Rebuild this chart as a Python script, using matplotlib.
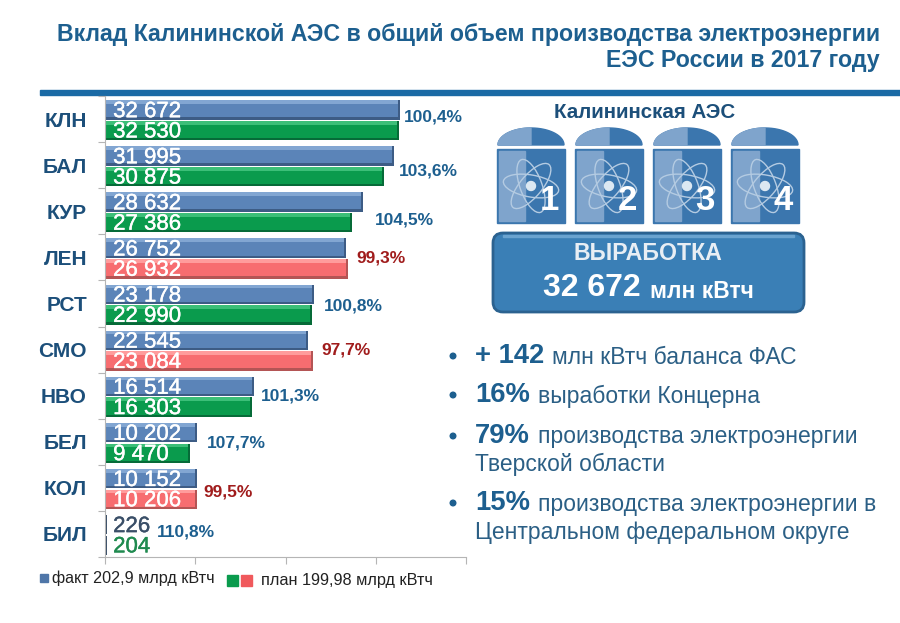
import numpy as np
from matplotlib import pyplot as plt
from matplotlib.patches import Rectangle, Ellipse, Circle, Polygon, FancyBboxPatch
import matplotlib.patheffects as pe

plt.rcParams['font.family'] = ['Liberation Sans', 'DejaVu Sans']

# chart data
stations = ["КЛН", "БАЛ", "КУР", "ЛЕН", "РСТ", "СМО", "НВО", "БЕЛ", "КОЛ", "БИЛ"]
fact = [32672, 31995, 28632, 26752, 23178, 22545, 16514, 10202, 10152, 226]
plan = [32530, 30875, 27386, 26932, 22990, 23084, 16303, 9470, 10206, 204]
percents = ["100,4%", "103,6%", "104,5%", "99,3%", "100,8%", "97,7%", "101,3%", "107,7%", "99,5%", "110,8%"]

# where the percent labels sit, in pixels
pct_x = [404, 399, 375, 356, 324, 321, 261, 207, 203, 157]
pct_y = [117, 171, 220, 258, 306, 350, 396, 443, 492, 532]

DARK = "#1c4f7a"
BLUE = "#1d5f8f"
TEXT = "#2b5f85"

fig = plt.figure(figsize=(9, 6.23), dpi=100)

# full figure axes in pixels for everything around the bars
bg = fig.add_axes([0, 0, 1, 1])
bg.set_xlim(0, 900)
bg.set_ylim(623, 0)
bg.axis("off")

ax = fig.add_axes([105 / 900, 66 / 623, 361 / 900, 461 / 623])
ax.patch.set_alpha(0)
y = np.arange(len(stations))


def bevel_bar(ypos, val, h, col, light, dark):
    '''bar with a light top edge, dark lower edge and dark right end'''
    ax.barh(ypos, val, height=h, color=col)
    ax.barh(ypos - h / 2 + 0.04, val, height=0.08, color=light)
    ax.barh(ypos + h / 2 - 0.025, val, height=0.05, color=dark)
    ax.barh(ypos, min(val, 220), height=h, left=val - min(val, 220), color=dark)


for i in y:
    if fact[i] < 1000:
        # too short for a bevel, plain dark marks with dark labels
        ax.barh(i - 0.2, fact[i], height=0.42, color="#3a4f68")
        ax.barh(i + 0.25, plan[i], height=0.42, color="#3a4f68")
    else:
        bevel_bar(i - 0.2, fact[i], 0.42, "#5b84b8", "#82a6d2", "#3d5c85")
        if plan[i] > fact[i]:
            bevel_bar(i + 0.25, plan[i], 0.42, "#f76d70", "#ff9c9c", "#b45555")
        else:
            bevel_bar(i + 0.25, plan[i], 0.42, "#0a9b4d", "#3cbf78", "#066b38")
    fact_col = "#3a4f68" if fact[i] < 1000 else "white"
    plan_col = "#1f8a4f" if plan[i] < 1000 else "white"
    for val, ypos, col in [(fact[i], i - 0.16, fact_col), (plan[i], i + 0.28, plan_col)]:
        t = ax.text(900, ypos, f"{val:,}".replace(",", " "), color=col,
                    fontsize=16, va="center", ha="left")
        t.set_path_effects([pe.withStroke(linewidth=0.3, foreground=col)])

ax.set_xlim(0, 40000)
ax.set_ylim(9.5, -0.5)
ax.set_xticks(np.arange(0, 40001, 10000))
ax.set_xticklabels([])
ax.set_yticks(np.arange(-0.5, 10, 1))
ax.set_yticklabels([])
ax.set_yticks(y, minor=True)
ax.set_yticklabels(stations, minor=True, fontsize=15, fontweight="bold", color=DARK)
ax.tick_params(axis="y", which="minor", length=0, pad=13)
ax.tick_params(axis="both", which="major", length=5, color="#b5b5b5")
ax.spines["top"].set_visible(False)
ax.spines["right"].set_visible(False)
ax.spines["left"].set_color("#b5b5b5")
ax.spines["bottom"].set_color("#b5b5b5")

for i in y:
    col = "#a01c1c" if plan[i] > fact[i] else BLUE
    bg.text(pct_x[i], pct_y[i], percents[i], color=col, fontsize=12.5, fontweight="bold", va="center", zorder=5)

# title and rule
bg.text(880, 35, "Вклад Калининской АЭС в общий объем производства электроэнергии", ha="right", va="center",
        fontsize=16.65, fontweight="bold", color=BLUE)
bg.text(880, 60, "ЕЭС России в 2017 году", ha="right", va="center", fontsize=16.65, fontweight="bold", color=BLUE)
bg.add_patch(Rectangle((40, 90), 860, 5, color="#1a6aa5"))

# legend
bg.add_patch(Rectangle((40, 574), 8, 8, color="#4f76a8"))
bg.text(52, 578, "факт 202,9 млрд кВтч", fontsize=11.6, va="center", color="#222222")
bg.add_patch(Rectangle((227, 575), 11, 11, color="#0a9b4d"))
bg.add_patch(Rectangle((241, 575), 11, 11, color="#f0595c"))
bg.text(261, 581, "план 199,98 млрд кВтч", fontsize=11.7, va="center", color="#222222")

# reactors
bg.text(645, 113, "Калининская АЭС", ha="center", va="center", fontsize=14.8, fontweight="bold", color=DARK)
for n, left in enumerate([497, 575, 653, 731]):
    bg.add_patch(Rectangle((left, 149), 68, 74, color="#3b76ae"))
    bg.add_patch(Rectangle((left + 2, 151), 26, 70, color="#7fa4cc"))
    t = np.linspace(0, np.pi, 40)
    arc = np.column_stack([left + 34 + 33 * np.cos(t), 145 - 17 * np.sin(t)])
    bg.add_patch(Polygon(arc, color="#3b76ae"))
    t = np.linspace(np.pi / 2, np.pi, 20)
    arc = np.column_stack([left + 34 + 33 * np.cos(t), 145 - 17 * np.sin(t)])
    bg.add_patch(Polygon(np.vstack([arc, [left + 34, 145]]), color="#7fa4cc"))
    cx, cy = left + 34, 186
    for ang in [10, 70, 130]:
        bg.add_patch(Ellipse((cx, cy), 56, 22, angle=ang, fill=False, ec="#b4cbe2", lw=1))
    bg.add_patch(Circle((cx, cy), 4.5, color="#dce8f2"))
    bg.text(left + 52, 200, str(n + 1), color="white", fontsize=25, fontweight="bold", ha="center", va="center")

# output box, darker rim with a lighter band along the top
bg.add_patch(FancyBboxPatch((493, 233), 311, 79, boxstyle="round,pad=0,rounding_size=10", fc="#3a7fb6",
                            ec="#2b6290", lw=2))
bg.add_patch(Rectangle((503, 235), 291, 2, color="#6aa3cf"))
bg.text(648, 254, "ВЫРАБОТКА", ha="center", va="center", fontsize=16.7, fontweight="bold", color="#e8eef4")
bg.text(543, 288, "32 672", va="center", fontsize=23, fontweight="bold", color="white")
bg.text(650, 291, "млн кВтч", va="center", fontsize=16.5, fontweight="bold", color="white")

# bullets
bullets = [
    (356, "+ 142", 552, "млн кВтч баланса ФАС"),
    (395, "16%", 538, "выработки Концерна"),
    (436, "79%", 538, "производства электроэнергии"),
    (503, "15%", 538, "производства электроэнергии в"),
]
for ypos, big, x2, rest in bullets:
    bg.add_patch(Circle((453, ypos), 2.8, color=BLUE))
    bg.text(475, ypos, big, va="center", fontsize=19.7, fontweight="bold", color=BLUE)
    bg.text(x2, ypos + 1, rest, va="center", fontsize=16.5, color=TEXT)
bg.text(475, 464, "Тверской области", va="center", fontsize=16.5, color=TEXT)
bg.text(475, 532, "Центральном федеральном округе", va="center", fontsize=16.5, color=TEXT)

fig.savefig("out.png", dpi=100)
